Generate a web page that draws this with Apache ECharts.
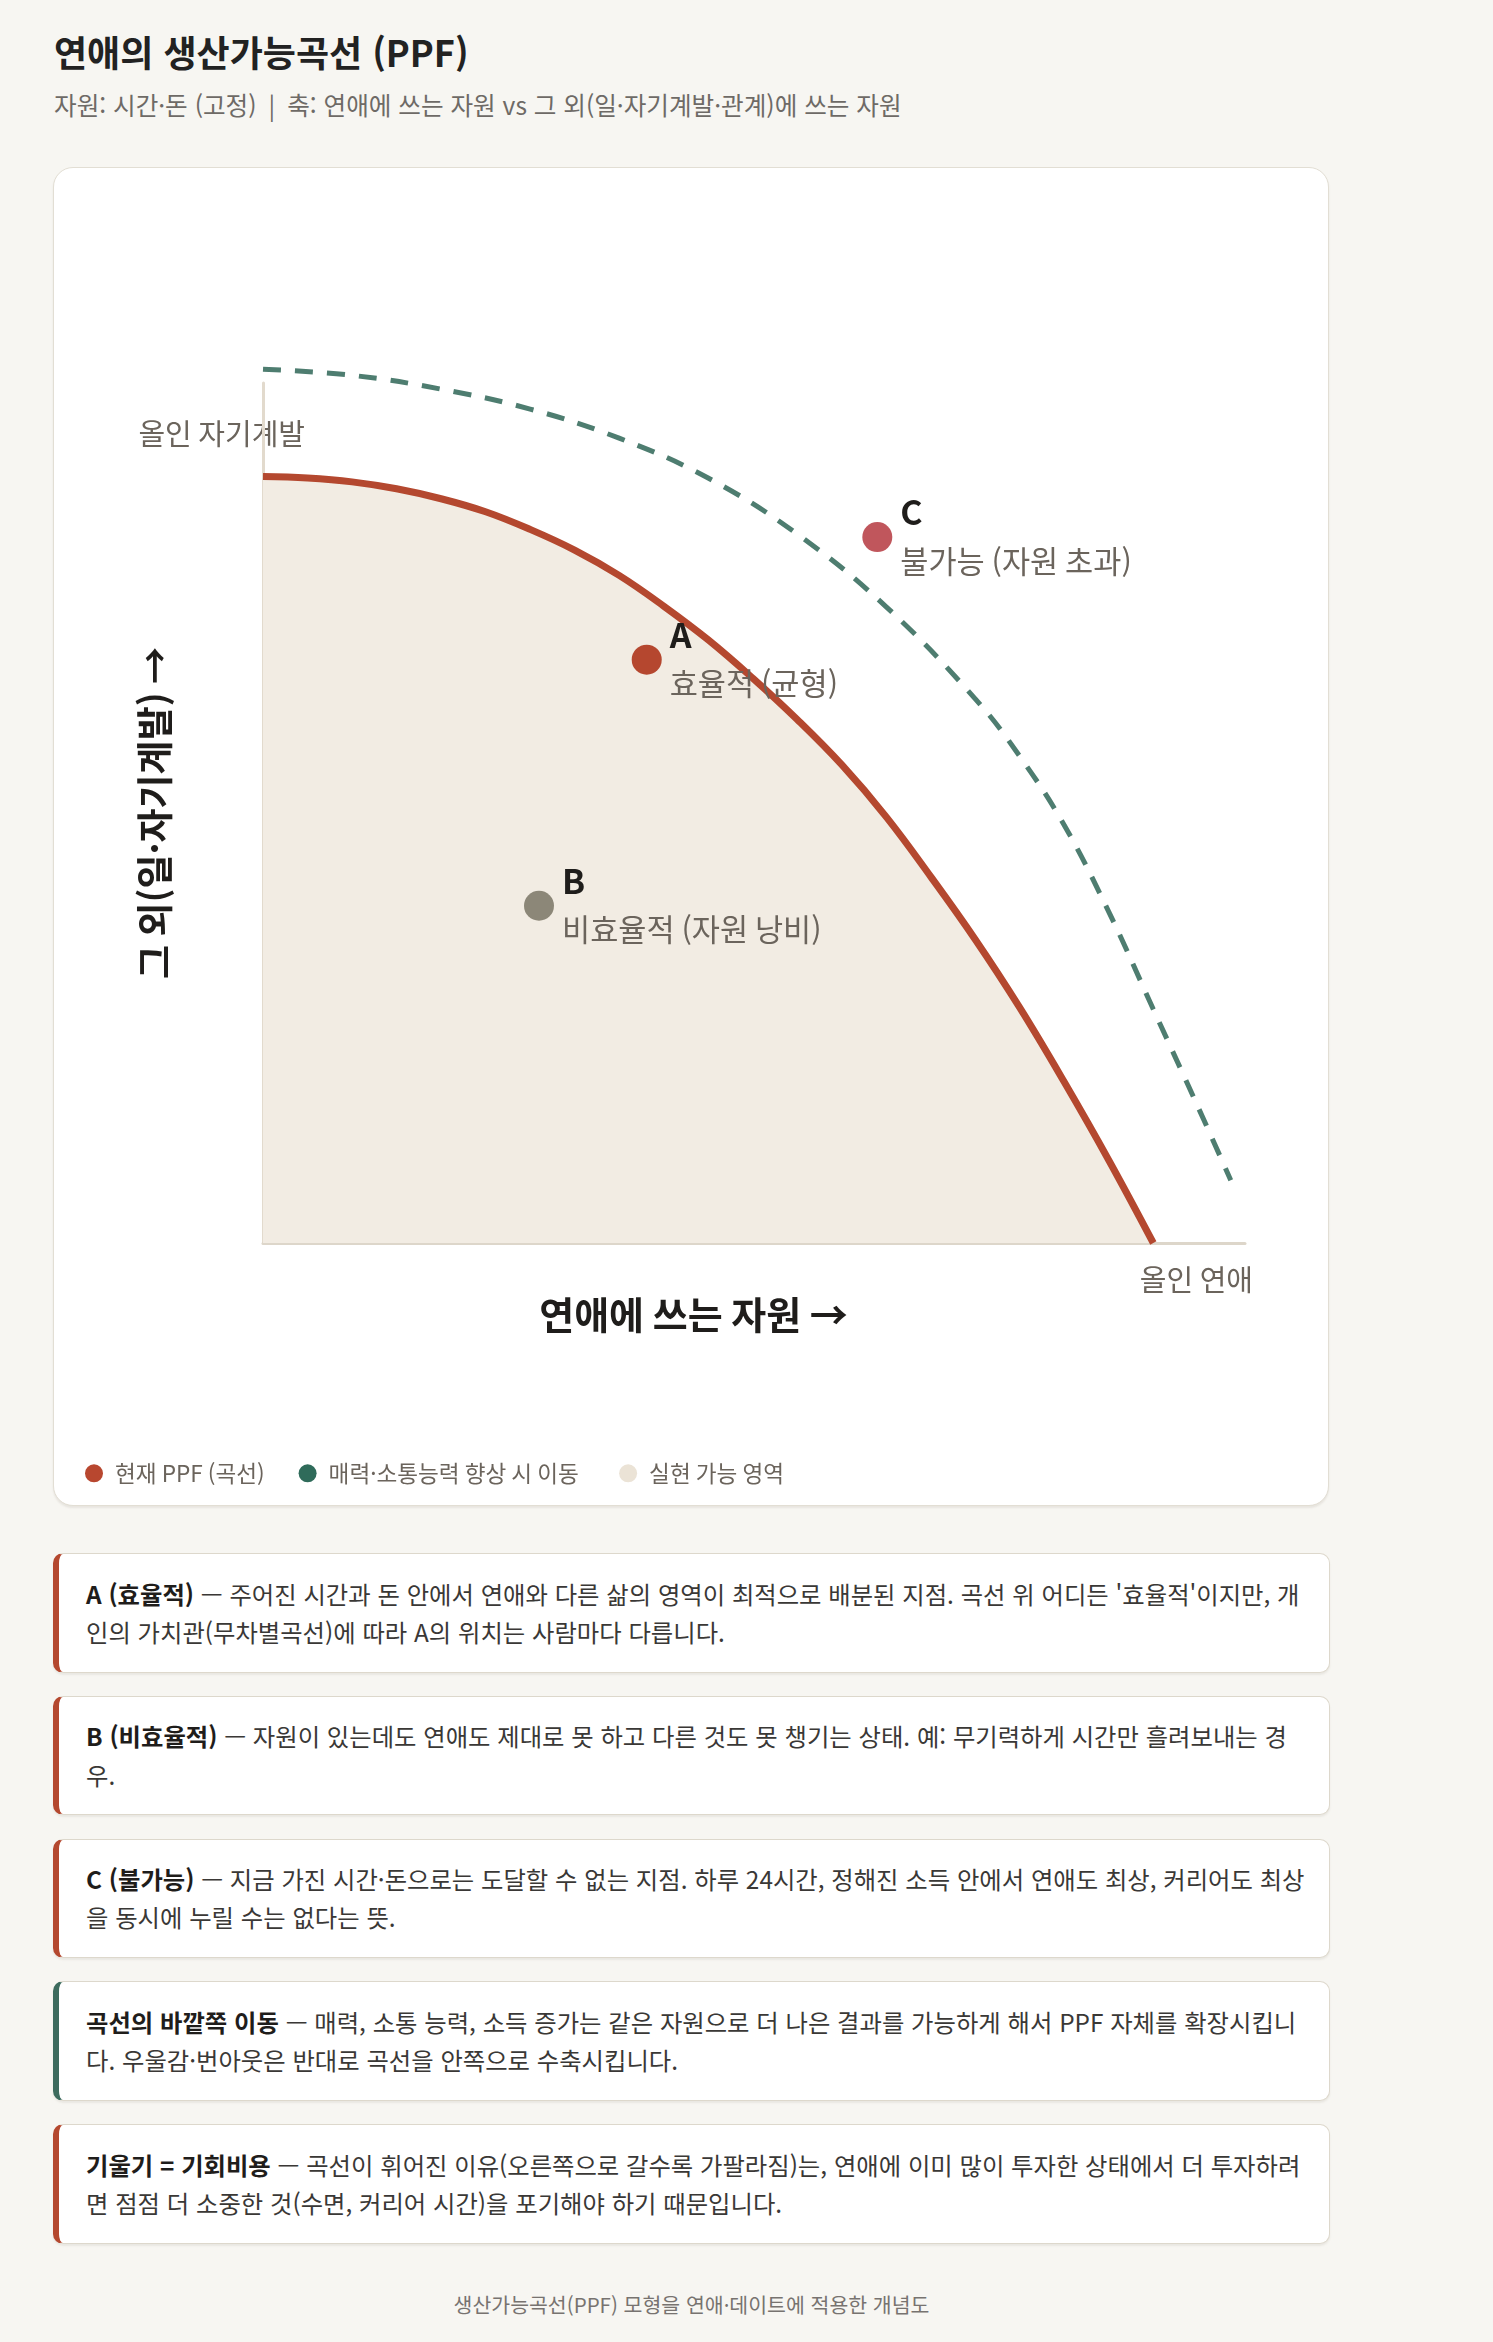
<!DOCTYPE html>
<html lang="ko">
<head>
<meta charset="utf-8">
<script src="https://cdn.jsdelivr.net/npm/echarts@6.0.0/dist/echarts.min.js"></script>
<style>
  html, body { margin:0; padding:0; }
  body { width:1493px; height:2342px; background:#f7f6f2; position:relative; overflow:hidden;
         font-family:"Noto Sans CJK KR","Noto Sans",sans-serif; }
  #title { position:absolute; left:54px; top:29px; font-size:36px; font-weight:700; color:#222; line-height:44px; }
  #subtitle { position:absolute; left:54px; top:89px; font-size:24.6px; color:#6e6a66; line-height:30px; white-space:nowrap; }
  #subtitle .sep { margin:0 12px; }
  #card { position:absolute; left:53px; top:167px; width:1274px; height:1337px; background:#fff;
          border:1.5px solid #e2ded4; border-radius:20px; box-shadow:0 2px 2px rgba(120,110,90,0.12); }
  #chart { position:absolute; left:53px; top:167px; width:1277px; height:1340px; }
  #notes { position:absolute; left:53px; top:1553px; width:1277px; }
  .note { box-sizing:border-box; width:1277px; background:#fff; border:1.5px solid #ddd8cc; border-left:6px solid #b4482f;
          border-radius:10px; padding:20.5px 22px 20.5px 27px; font-size:24.35px; line-height:38.3px; color:#3a3836;
          margin-bottom:23.2px; box-shadow:0 2px 2px rgba(120,110,90,0.10); }
  .note b { color:#1f1d1b; font-weight:700; }
  .note.green { border-left-color:#3d6b5e; }
  #footer { position:absolute; left:53px; width:1277px; top:2290px; text-align:center; font-size:20.5px; color:#777370; line-height:28px; }
</style>
</head>
<body>
<div id="title">연애의 생산가능곡선 (PPF)</div>
<div id="subtitle">자원: 시간·돈 (고정)<span class="sep">|</span>축: 연애에 쓰는 자원 vs 그 외(일·자기계발·관계)에 쓰는 자원</div>
<div id="card"></div>
<div id="chart"></div>
<div id="notes">
  <div class="note"><b>A (효율적)</b> — 주어진 시간과 돈 안에서 연애와 다른 삶의 영역이 최적으로 배분된 지점. 곡선 위 어디든 '효율적'이지만, 개인의 가치관(무차별곡선)에 따라 A의 위치는 사람마다 다릅니다.</div>
  <div class="note"><b>B (비효율적)</b> — 자원이 있는데도 연애도 제대로 못 하고 다른 것도 못 챙기는 상태. 예: 무기력하게 시간만 흘려보내는 경우.</div>
  <div class="note"><b>C (불가능)</b> — 지금 가진 시간·돈으로는 도달할 수 없는 지점. 하루 24시간, 정해진 소득 안에서 연애도 최상, 커리어도 최상을 동시에 누릴 수는 없다는 뜻.</div>
  <div class="note green"><b>곡선의 바깥쪽 이동</b> — 매력, 소통 능력, 소득 증가는 같은 자원으로 더 나은 결과를 가능하게 해서 PPF 자체를 확장시킵니다. 우울감·번아웃은 반대로 곡선을 안쪽으로 수축시킵니다.</div>
  <div class="note"><b>기울기 = 기회비용</b> — 곡선이 휘어진 이유(오른쪽으로 갈수록 가팔라짐)는, 연애에 이미 많이 투자한 상태에서 더 투자하려면 점점 더 소중한 것(수면, 커리어 시간)을 포기해야 하기 때문입니다.</div>
</div>
<div id="footer">생산가능곡선(PPF) 모형을 연애·데이트에 적용한 개념도</div>

<script>
// ---- data ----
// current PPF (x: resources spent on dating, y: other resources)
const ppfX = [0, 5, 10, 15, 20, 25, 30, 35, 40, 45, 50, 55, 60, 65, 70, 75, 80, 85, 90, 95, 100];
const ppfY = [100, 99.8, 99.3, 98.4, 97.1, 95.4, 93.1, 90.4, 87.1, 83.1, 78.7, 73.7, 68.3, 62.4, 55.6, 47.8, 39.6, 30.7, 21.0, 10.8, 0];
// expanded PPF (dashed)
const shiftX = [0, 10, 20, 30, 40, 50, 60, 70, 80, 85, 90, 95, 100, 105, 108.7];
const shiftY = [114, 113.2, 111.4, 108.8, 105, 99.8, 92.5, 83, 71, 63.5, 54.5, 43.2, 30.5, 17.8, 8.2];
// labelled points
const pointNames = ['A', 'B', 'C'];
const pointDescs = ['효율적 (균형)', '비효율적 (자원 낭비)', '불가능 (자원 초과)'];
const pointX = [43.1, 31.0, 69.0];
const pointY = [76.1, 44.0, 92.1];
// legend / text
const seriesNames = ['현재 PPF (곡선)', '매력·소통능력 향상 시 이동', '실현 가능 영역'];
const xAxisName = '연애에 쓰는 자원 →';
const yAxisName = '그 외(일·자기계발) →';
const yEndLabel = '올인 자기계발';
const xEndLabel = '올인 연애';

const FONT = '"Noto Sans CJK KR","Noto Sans",sans-serif';
const pointColors = ['#b5472f', '#8c8778', '#c0565c'];
const legendColors = ['#b8472f', '#2f6b5a', '#ebe3d6'];

const zip = (xs, ys) => xs.map((x, i) => [x, ys[i]]);

const chart = echarts.init(document.getElementById('chart'), null, { renderer: 'canvas' });
chart.setOption({
  animation: false,
  textStyle: { fontFamily: FONT },
  grid: { left: 210, top: 216, right: 85, bottom: 264, containLabel: false },
  xAxis: {
    type: 'value', min: 0, max: 110.3,
    axisLine: { show: true, lineStyle: { color: '#ddd6ca', width: 3 } },
    axisTick: { show: false }, axisLabel: { show: false }, splitLine: { show: false }
  },
  yAxis: {
    type: 'value', min: 0, max: 112.2,
    name: yAxisName, nameLocation: 'middle', nameRotate: 90, nameGap: 90,
    nameTextStyle: { fontSize: 37, fontWeight: 'bold', color: '#1f1d1b', fontFamily: FONT },
    axisLine: { show: true, lineStyle: { color: '#e2dacd', width: 3 } },
    axisTick: { show: false }, axisLabel: { show: false }, splitLine: { show: false }
  },
  legend: {
    left: 27, top: 1290, icon: 'circle', itemWidth: 32, itemHeight: 18, itemGap: 34,
    selectedMode: false,
    textStyle: { fontSize: 22.6, color: '#6b645c', fontFamily: FONT },
    data: seriesNames.map((n, i) => ({ name: n, itemStyle: { color: legendColors[i] } }))
  },
  series: [
    {
      name: seriesNames[2], type: 'line', data: zip(ppfX, ppfY), smooth: 0.4,
      symbol: 'none', lineStyle: { width: 0, opacity: 0 },
      areaStyle: { color: '#f2ece3', opacity: 1 }, z: 1, silent: true
    },
    {
      name: seriesNames[0], type: 'line', data: zip(ppfX, ppfY), smooth: 0.4,
      symbol: 'none', lineStyle: { color: '#b4482f', width: 7 }, z: 3
    },
    {
      name: seriesNames[1], type: 'line', data: zip(shiftX, shiftY), smooth: 0.4, clip: false,
      symbol: 'none', lineStyle: { color: '#4e7d70', width: 5, type: [18, 14], cap: 'butt' }, z: 3
    },
    {
      name: 'points', type: 'scatter', symbolSize: 30, z: 5,
      data: pointNames.map((n, i) => ({
        name: n, desc: pointDescs[i], value: [pointX[i], pointY[i]],
        itemStyle: { color: pointColors[i], opacity: 1 }
      })),
      label: {
        show: true, position: 'right', distance: 8,
        formatter: p => `{l|${p.data.name}}\n{d|${p.data.desc}}`,
        rich: {
          l: { fontSize: 34, fontWeight: 'bold', color: '#1f1d1b', lineHeight: 48, fontFamily: FONT },
          d: { fontSize: 30.6, color: '#6b645c', lineHeight: 50, fontFamily: FONT }
        }
      }
    }
  ],
  graphic: [
    { type: 'text', x: 640.5, y: 1148, style: { text: xAxisName, fill: '#1f1d1b',
      font: `bold 38px ${FONT}`, align: 'center', verticalAlign: 'middle' } },
    { type: 'text', x: 252, y: 267, style: { text: yEndLabel, fill: '#6b645c',
      font: `29px ${FONT}`, align: 'right', verticalAlign: 'middle' } },
    { type: 'text', x: 1200, y: 1113, style: { text: xEndLabel, fill: '#6b645c',
      font: `29px ${FONT}`, align: 'right', verticalAlign: 'middle' } }
  ]
});
</script>
</body>
</html>
